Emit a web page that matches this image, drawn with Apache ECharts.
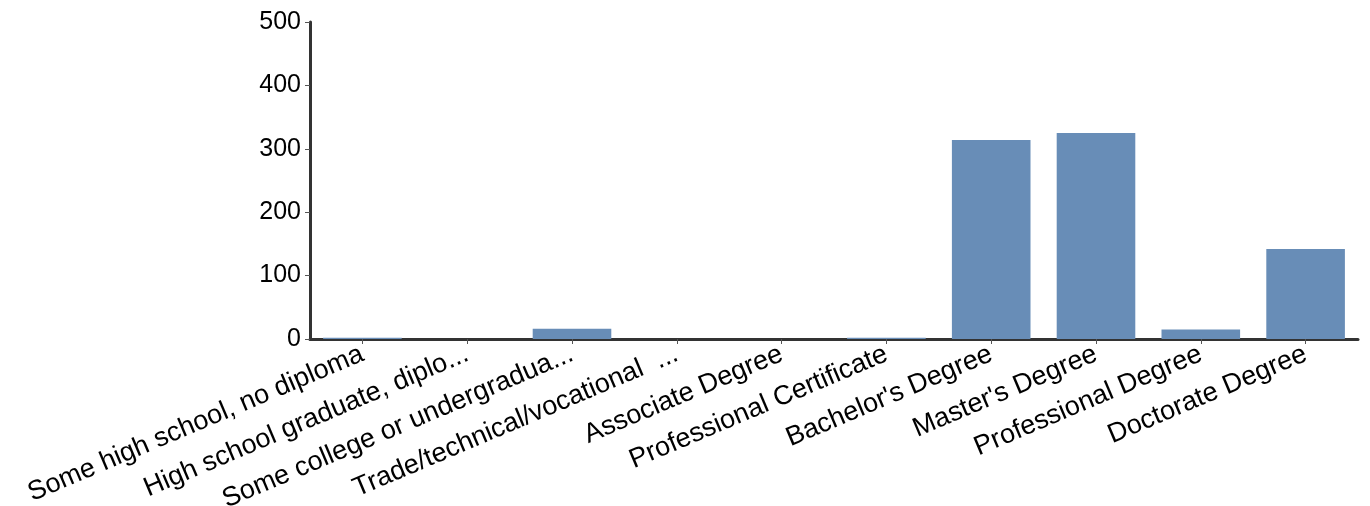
<!DOCTYPE html>
<html>
<head>
<meta charset="utf-8">
<script src="https://cdn.jsdelivr.net/npm/echarts@6/dist/echarts.min.js"></script>
<style>
html,body{margin:0;padding:0;background:#fff;}
#chart{width:1370px;height:506px;}
</style>
</head>
<body>
<div id="chart"></div>
<script>
const categories = [
  "Some high school, no diploma",
  "High school graduate, diplo...",
  "Some college or undergradua...",
  "Trade/technical/vocational  ...",
  "Associate Degree",
  "Professional Certificate",
  "Bachelor's Degree",
  "Master's Degree",
  "Professional Degree",
  "Doctorate Degree"
];
const counts = [2, 0, 16, 0, 0, 2, 314, 325, 15, 142];
const yTicks = [0, 100, 200, 300, 400, 500];

const chart = echarts.init(document.getElementById('chart'), null, {renderer: 'canvas'});
chart.setOption({
  animation: false,
  grid: {left: 310, right: 12, top: 22, bottom: 167, containLabel: false, outerBoundsMode: 'none'},
  xAxis: {
    type: 'category',
    data: categories,
    axisLine: {show: true, lineStyle: {color: '#333', width: 3}},
    axisTick: {show: true, alignWithLabel: true, length: 5, lineStyle: {color: '#555', width: 1}},
    axisLabel: {
      interval: 0,
      rotate: 23,
      margin: 14,
      color: '#000',
      fontFamily: 'Liberation Sans, Arial, sans-serif',
      fontSize: 27
    }
  },
  yAxis: {
    type: 'value',
    min: yTicks[0],
    max: yTicks[yTicks.length - 1],
    interval: 100,
    splitLine: {show: false},
    axisLine: {show: true, lineStyle: {color: '#333', width: 3}},
    axisTick: {show: true, length: 5, lineStyle: {color: '#555', width: 1}},
    axisLabel: {
      color: '#000',
      fontFamily: 'Liberation Sans, Arial, sans-serif',
      fontSize: 25,
      margin: 9
    }
  },
  series: [{
    type: 'bar',
    data: counts,
    barWidth: '75%',
    itemStyle: {color: '#688db7'}
  }]
});
</script>
</body>
</html>
